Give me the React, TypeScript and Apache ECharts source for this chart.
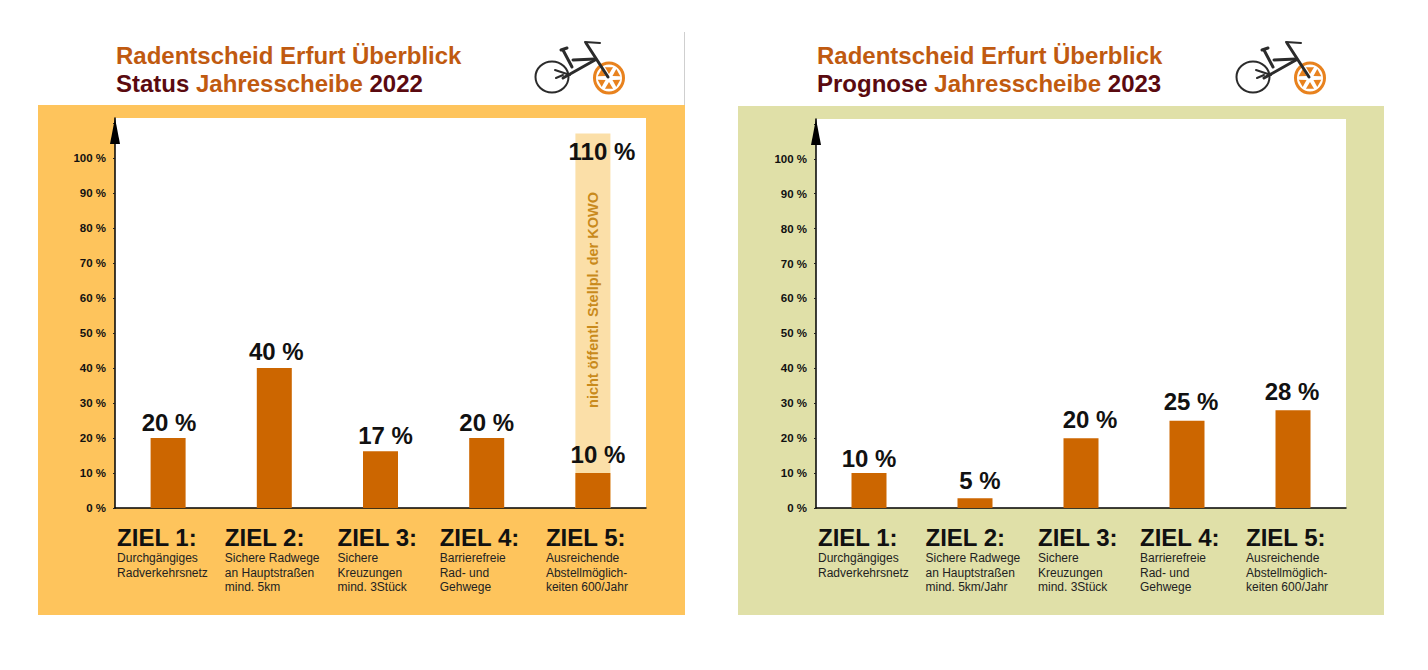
import React, { useEffect, useRef } from "react";
import * as echarts from "echarts";

const categories = ["ZIEL 1:", "ZIEL 2:", "ZIEL 3:", "ZIEL 4:", "ZIEL 5:"];
const descLeft = [
  ["Durchgängiges", "Radverkehrsnetz"],
  ["Sichere Radwege", "an Hauptstraßen", "mind. 5km"],
  ["Sichere", "Kreuzungen", "mind. 3Stück"],
  ["Barrierefreie", "Rad- und", "Gehwege"],
  ["Ausreichende", "Abstellmöglich-", "keiten 600/Jahr"],
];
const descRight = [
  ["Durchgängiges", "Radverkehrsnetz"],
  ["Sichere Radwege", "an Hauptstraßen", "mind. 5km/Jahr"],
  ["Sichere", "Kreuzungen", "mind. 3Stück"],
  ["Barrierefreie", "Rad- und", "Gehwege"],
  ["Ausreichende", "Abstellmöglich-", "keiten 600/Jahr"],
];
const barsLeft = [20, 40, 16.2, 20, 10];
const labelsLeft = ["20 %", "40 %", "17 %", "20 %", "10 %"];
const paleBarLeft = [null, null, null, null, 107];
const paleLabel = "110 %";
const paleNote = "nicht öffentl. Stellpl. der KOWO";
const barsRight = [10, 2.8, 20, 25, 28];
const labelsRight = ["10 %", "5 %", "20 %", "25 %", "28 %"];

const FONT = "Liberation Sans";
const ORANGE = "#CC6600";
const TITLE = "#C05A10";
const DARK = "#5A0A10";
const labelBoxWidths = [102, 99, 86, 94, 94];
const labelShiftLeft = [[1, 0], [2, -1], [5, -1], [0, 0], [5, -3]];
const labelShiftRight = [[0, 0], [5, -3], [9, -4], [4, -4], [-1, -4]];

function axisPair(idx: number, descs: string[][]) {
  return {
    x: {
      type: "category",
      gridIndex: idx,
      data: categories.map((c, i) => ({
        value: c,
        textStyle: { width: labelBoxWidths[i], align: "center", overflow: "none" },
      })),
      axisTick: { show: false },
      axisLine: { lineStyle: { color: "#000", width: 1.5 } },
      axisLabel: {
        interval: 0,
        margin: 16,
        verticalAlign: "top",
        formatter: (v: string) => {
          const i = categories.indexOf(v);
          return `{z|${v}}\n` + descs[i].map((d) => `{d|${d}}`).join("\n");
        },
        rich: {
          z: { fontFamily: FONT, fontWeight: "bold", fontSize: 24, color: "#111", lineHeight: 27, align: "left" },
          d: { fontFamily: FONT, fontSize: 12, color: "#222", lineHeight: 14.5, align: "left" },
        },
      },
    },
    y: {
      type: "value",
      gridIndex: idx,
      min: 0,
      max: 111.4,
      interval: 10,
      splitLine: { show: false },
      axisTick: { show: true, length: 2, lineStyle: { color: "#222" } },
      axisLine: {
        show: true,
        symbol: ["none", "triangle"],
        symbolSize: [10, 26],
        symbolOffset: [0, -13],
        lineStyle: { color: "#000", width: 1.5 },
      },
      axisLabel: {
        margin: 9,
        fontFamily: FONT,
        fontWeight: "bold",
        fontSize: 11.5,
        color: "#111",
        showMaxLabel: false,
        formatter: (v: number) => (v > 100 ? "" : `${v} %`),
      },
    },
  };
}

function barSeries(idx: number, values: number[], labels: string[], shifts: number[][]) {
  return {
    type: "bar",
    name: idx === 0 ? "Status 2022" : "Prognose 2023",
    xAxisIndex: idx,
    yAxisIndex: idx,
    barWidth: 35,
    barGap: "-100%",
    z: 3,
    itemStyle: { color: ORANGE },
    data: values.map((v, i) => ({
      value: v,
      label: { formatter: labels[i], offset: shifts[i] },
    })),
    label: {
      show: true,
      position: "top",
      distance: 3,
      fontFamily: FONT,
      fontWeight: "bold",
      fontSize: 24,
      color: "#111",
    },
  };
}

function bike(dx: number, dy: number) {
  const ink = "#2b2b2b";
  const wheel = "#E8821E";
  const seg = (x1: number, y1: number, x2: number, y2: number, w: number, c = ink) => ({
    type: "line",
    z: 5,
    shape: { x1: x1 + dx, y1: y1 + dy, x2: x2 + dx, y2: y2 + dy },
    style: { stroke: c, lineWidth: w, lineCap: "round" },
  });
  const spokes = [0, 60, 120, 180, 240, 300].map((a) => {
    const r = ((a + 30) * Math.PI) / 180;
    const cx = 609 + dx;
    const cy = 78 + dy;
    const p = (rad: number, off: number) => [cx + rad * Math.cos(r + off), cy + rad * Math.sin(r + off)];
    return {
      type: "polygon",
      z: 5,
      shape: { points: [p(4, 0), p(11.5, 0.36), p(11.5, -0.36)] },
      style: { fill: wheel },
    };
  });
  return [
    {
      type: "ellipse",
      z: 5,
      shape: { cx: 552 + dx, cy: 77 + dy, rx: 16.5, ry: 15.5 },
      style: { fill: "none", stroke: ink, lineWidth: 2 },
    },
    {
      type: "ellipse",
      z: 5,
      shape: { cx: 609 + dx, cy: 78 + dy, rx: 14.5, ry: 15 },
      style: { fill: "none", stroke: wheel, lineWidth: 3 },
    },
    ...spokes,
    seg(563, 50, 572, 67, 3),
    seg(561, 50, 567, 48, 3),
    seg(573, 60, 595, 59, 3),
    seg(595, 60, 563, 78, 3),
    seg(586, 43, 608, 77, 3),
    seg(585, 42, 600, 43, 2),
    seg(555, 70, 570, 75, 2),
    seg(563, 75, 556, 78, 2),
  ];
}

const rect = (x: number, y: number, width: number, height: number, fill: string, z: number) => ({
  type: "rect",
  z,
  shape: { x, y, width, height },
  style: { fill },
});

const richTitle = {
  a: { fontFamily: FONT, fontWeight: "bold", fontSize: 24, color: TITLE, lineHeight: 28 },
  b: { fontFamily: FONT, fontWeight: "bold", fontSize: 24, color: DARK, lineHeight: 28 },
};

export default function App() {
  const ref = useRef<HTMLDivElement>(null);
  useEffect(() => {
    document.body.style.margin = "0";
    const chart = echarts.init(ref.current!, undefined, { renderer: "svg" });
    const left = axisPair(0, descLeft);
    const right = axisPair(1, descRight);
    chart.setOption({
      animation: false,
      backgroundColor: "#fff",
      title: [
        {
          left: 116,
          top: 41,
          padding: 0,
          text: "{a|Radentscheid Erfurt Überblick}\n{b|Status }{a|Jahresscheibe }{b|2022}",
          textStyle: { rich: richTitle },
        },
        {
          left: 817,
          top: 41,
          padding: 0,
          text: "{a|Radentscheid Erfurt Überblick}\n{b|Prognose }{a|Jahresscheibe }{b|2023}",
          textStyle: { rich: richTitle },
        },
      ],
      grid: [
        { left: 115, top: 118, width: 531, height: 390 },
        { left: 816, top: 119, width: 530, height: 389 },
      ],
      xAxis: [left.x, right.x],
      yAxis: [left.y, right.y],
      graphic: [
        rect(38, 105, 647, 510, "#FEC45C", -20),
        rect(115, 118, 531, 390, "#fff", -10),
        rect(738, 106, 646, 509, "#E0E0A8", -20),
        rect(816, 119, 530, 389, "#fff", -10),
        {
          type: "line",
          z: -20,
          shape: { x1: 684.5, y1: 32, x2: 684.5, y2: 105 },
          style: { stroke: "#cfcfcf", lineWidth: 1 },
        },
        {
          type: "text",
          z: 10,
          x: 593,
          y: 300,
          rotation: Math.PI / 2,
          style: {
            text: paleNote,
            fontFamily: FONT,
            fontSize: 14.5,
            fontWeight: "bold",
            fill: "#C98A1C",
            align: "center",
            verticalAlign: "middle",
          },
        },
        ...bike(0, 0),
        ...bike(701, 0),
      ],
      series: [
        {
          type: "bar",
          name: "nicht öffentl. Stellplätze",
          xAxisIndex: 0,
          yAxisIndex: 0,
          barWidth: 35,
          barGap: "-100%",
          z: 2,
          itemStyle: { color: "#FBDFA8" },
          data: paleBarLeft,
          label: {
            show: true,
            position: "insideTop",
            distance: 6,
            offset: [9, 0],
            formatter: paleLabel,
            fontFamily: FONT,
            fontWeight: "bold",
            fontSize: 24,
            color: "#111",
          },
        },
        barSeries(0, barsLeft, labelsLeft, labelShiftLeft),
        barSeries(1, barsRight, labelsRight, labelShiftRight),
      ],
    });
    return () => chart.dispose();
  }, []);
  return <div ref={ref} style={{ width: 1428, height: 670 }} />;
}
